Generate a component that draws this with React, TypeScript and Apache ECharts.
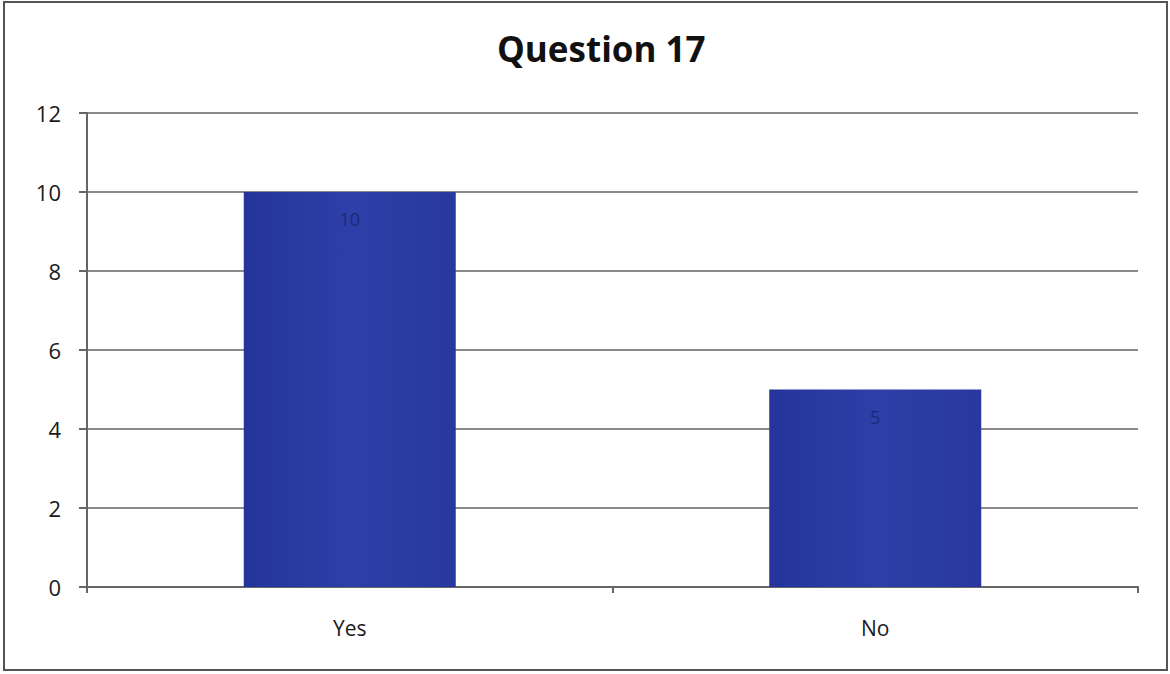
import React, { useEffect, useRef } from "react";
import * as echarts from "echarts";

const categories = ["Yes", "No"];
const counts = [10, 5];
const yTicks = { min: 0, max: 12, interval: 2 };
const titleText = "Question 17";

export default function App() {
  const ref = useRef<HTMLDivElement>(null);

  useEffect(() => {
    if (!ref.current) return;
    const chart = echarts.init(ref.current, null, { renderer: "svg" });
    chart.setOption({
      animation: false,
      backgroundColor: "#ffffff",
      title: {
        text: titleText,
        left: 492,
        top: 26,
        itemGap: 0,
        textStyle: {
          fontFamily: "Open Sans",
          fontWeight: "bold",
          fontSize: 35,
          color: "#111111",
        },
      },
      graphic: [
        {
          type: "rect",
          shape: { x: 4, y: 2, width: 1163, height: 668 },
          style: { fill: "none", stroke: "#555555", lineWidth: 2 },
          z: 0,
        },
      ],
      grid: { left: 87, right: 32, top: 113, bottom: 87 },
      xAxis: {
        type: "category",
        data: categories,
        axisLine: { lineStyle: { color: "#666666", width: 2 } },
        axisTick: { show: true, alignWithLabel: false, length: 6, lineStyle: { color: "#666666", width: 2 } },
        axisLabel: { fontFamily: "Open Sans", fontSize: 21, fontWeight: 500, color: "#1a1a1a", margin: 30 },
      },
      yAxis: {
        type: "value",
        min: yTicks.min,
        max: yTicks.max,
        interval: yTicks.interval,
        axisLine: { show: true, lineStyle: { color: "#666666", width: 2 } },
        axisTick: { show: true, length: 8, lineStyle: { color: "#666666", width: 2 } },
        axisLabel: { fontFamily: "Open Sans", fontSize: 22, fontWeight: 500, color: "#1a1a1a", margin: 26 },
        splitLine: { lineStyle: { color: "#8a8a8a", width: 2 } },
      },
      series: [
        {
          type: "bar",
          data: counts,
          barWidth: 212,
          itemStyle: {
            color: new echarts.graphic.LinearGradient(0, 0, 1, 0, [
              { offset: 0, color: "#24349a" },
              { offset: 0.5, color: "#2d3fa8" },
              { offset: 1, color: "#28389f" },
            ]),
          },
          label: {
            show: true,
            position: "insideTop",
            distance: 18,
            fontFamily: "Open Sans",
            fontSize: 18,
            color: "#1c2a7a",
          },
        },
      ],
    });
    return () => chart.dispose();
  }, []);

  return (
    <div
      ref={ref}
      style={{ position: "fixed", left: 0, top: 0, width: 1170, height: 674 }}
    />
  );
}
